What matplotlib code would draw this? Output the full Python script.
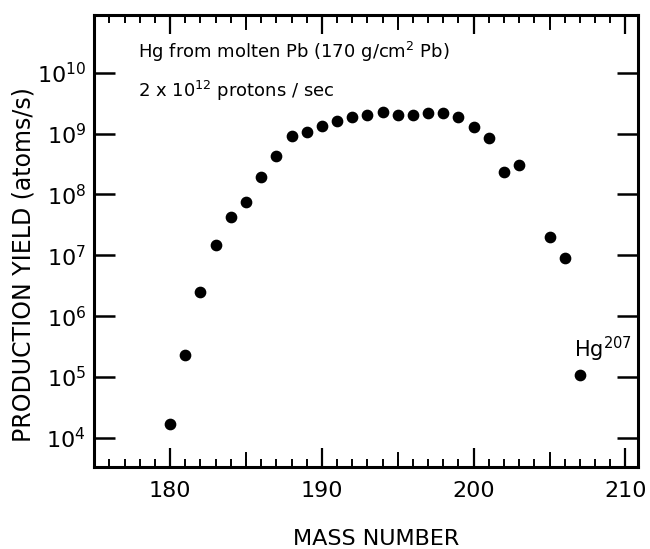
#!/usr/bin/env python3
"""Hg production yield from molten Pb target versus mass number."""

import matplotlib

matplotlib.use("Agg")
import matplotlib.pyplot as plt
from matplotlib.ticker import FixedLocator, MultipleLocator

mass_number = [180, 181, 182, 183, 184, 185, 186, 187, 188, 189, 190, 191, 192,
               193, 194, 195, 196, 197, 198, 199, 200, 201, 202, 203, 205, 206, 207]
yield_atoms_s = [1.7e4, 2.3e5, 2.5e6, 1.5e7, 4.3e7, 7.6e7, 1.9e8, 4.3e8, 9.0e8,
                 1.07e9, 1.35e9, 1.6e9, 1.9e9, 2.0e9, 2.3e9, 2.05e9, 2.05e9, 2.15e9,
                 2.2e9, 1.9e9, 1.3e9, 8.5e8, 2.3e8, 3.1e8, 2.0e7, 9.2e6, 1.1e5]
x_ticks = [180, 190, 200, 210]
y_exponents = [4, 5, 6, 7, 8, 9, 10]

plt.rcParams["font.family"] = ["DejaVu Sans"]
plt.rcParams["mathtext.default"] = "regular"

fig = plt.figure(figsize=(6.5, 5.49), dpi=100)
ax = fig.add_axes([0.145, 0.149, 0.837, 0.824])

ax.scatter(mass_number, yield_atoms_s, s=55, color="black", zorder=3)

ax.set_yscale("log")
ax.set_xlim(175, 210.85)
ax.set_ylim(10 ** 3.52, 10 ** 10.95)

ax.xaxis.set_major_locator(FixedLocator(x_ticks))
ax.xaxis.set_minor_locator(MultipleLocator(1))
ax.set_xticklabels([str(t) for t in x_ticks])
ax.tick_params(axis="x", which="major", direction="in", length=14, width=1.6,
               top=True, labelsize=16, pad=10)
ax.tick_params(axis="x", which="minor", direction="in", length=6, width=1.4, top=True)

# the 185/195/205 ticks are as long as the labelled ones
for m in range(176, 210):
    if m % 5 == 0 and m % 10 != 0:
        ax.plot([m, m], [0, 0.031], transform=ax.get_xaxis_transform(),
                color="black", lw=1.4, clip_on=False)
        ax.plot([m, m], [1, 0.969], transform=ax.get_xaxis_transform(),
                color="black", lw=1.4, clip_on=False)

y_vals = [10.0 ** e for e in y_exponents]
ax.yaxis.set_major_locator(FixedLocator(y_vals))
ax.yaxis.set_minor_locator(FixedLocator([]))
ax.set_yticklabels([f"$10^{{{e}}}$" for e in y_exponents])
ax.tick_params(axis="y", which="major", direction="in", length=15, width=1.8,
               right=True, labelsize=16, pad=6)

for spine in ax.spines.values():
    spine.set_linewidth(2.2)

ax.set_xlabel("MASS NUMBER", fontsize=16)
ax.xaxis.set_label_coords(0.518, -0.137)
ax.set_ylabel("PRODUCTION YIELD (atoms/s)", fontsize=17)
ax.yaxis.set_label_coords(-0.108, 0.449)

ax.text(0.08, 0.918, "Hg from molten Pb (170 g/cm$^2$ Pb)", transform=ax.transAxes,
        fontsize=13, va="center")
ax.text(0.08, 0.832, "2 x 10$^{12}$ protons / sec", transform=ax.transAxes,
        fontsize=13, va="center")
ax.text(206.6, 10 ** 5.45, "Hg$^{207}$", fontsize=15, va="center")

fig.savefig("out.png", dpi=100)
